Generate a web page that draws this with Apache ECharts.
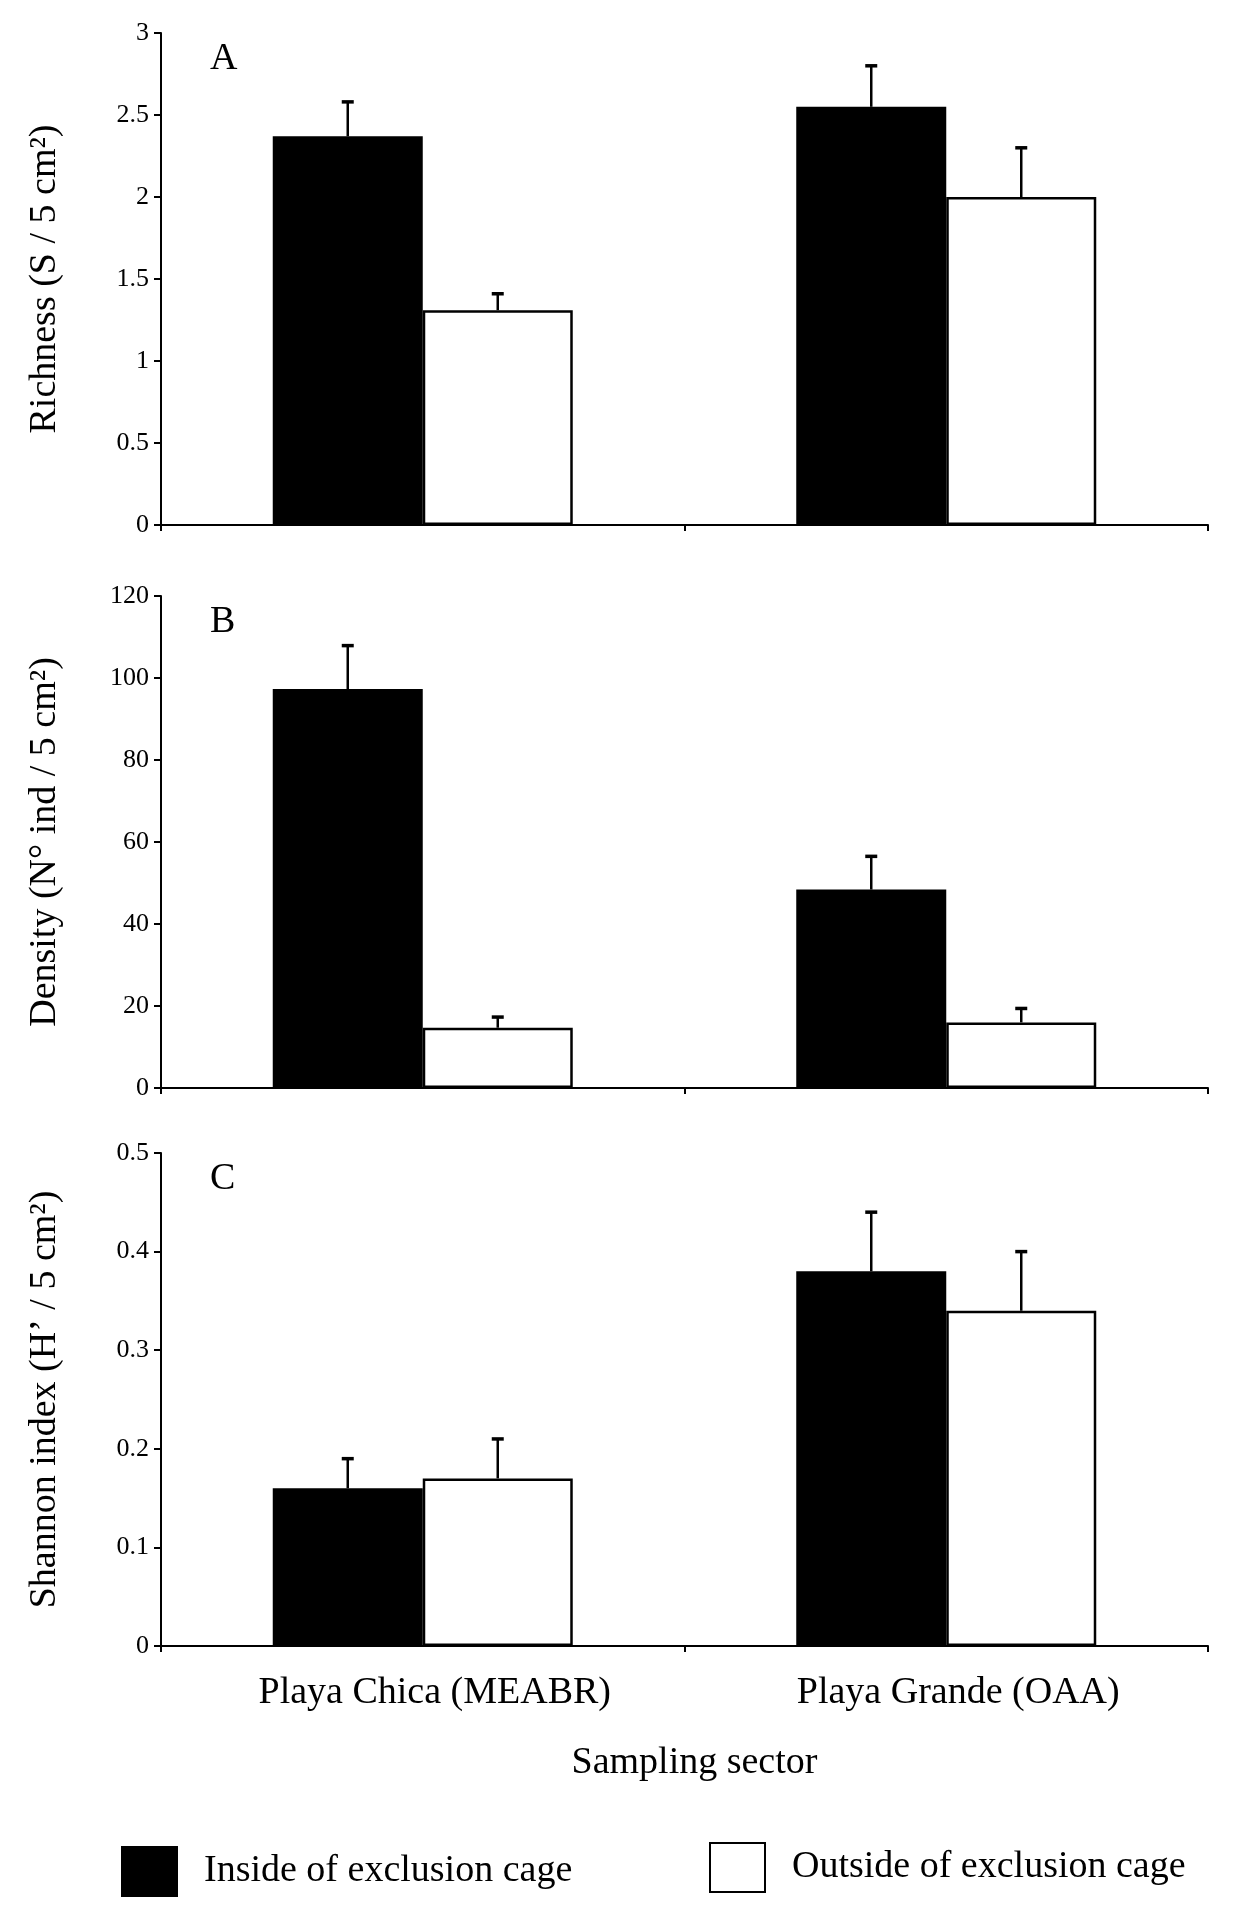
<!doctype html>
<html>
    <head>
        <meta charset="utf-8">
        <title>Exclusion cage - richness, density, Shannon</title>
        <style>
            html, body { margin: 0; padding: 0; background: #fff; }
            #main { width: 1260px; height: 1922px; }
        </style>
    </head>
    <body>
        <div id="main"></div>
        <script src="https://cdn.jsdelivr.net/npm/echarts@6/dist/echarts.min.js"></script>
        <script>
            // sectors on the x axis
            var sectors = ['Playa Chica (MEABR)', 'Playa Grande (OAA)'];

            // A: richness (S / 5 cm2), mean and upper error
            var richnessIn = [2.37, 2.55];
            var richnessInErr = [0.21, 0.25];
            var richnessOut = [1.31, 2.0];
            var richnessOutErr = [0.1, 0.3];

            // B: density (N ind / 5 cm2)
            var densityIn = [97.3, 48.4];
            var densityInErr = [10.6, 8.1];
            var densityOut = [14.7, 16.0];
            var densityOutErr = [2.6, 3.4];

            // C: Shannon index (H' / 5 cm2)
            var shannonIn = [0.16, 0.38];
            var shannonInErr = [0.03, 0.06];
            var shannonOut = [0.17, 0.34];
            var shannonOutErr = [0.04, 0.06];

            var yMax = [3, 120, 0.5];
            var yStep = [0.5, 20, 0.1];
            var yNames = ['Richness (S / 5 cm\u00b2)', 'Density (N\u00b0 ind / 5 cm\u00b2)', 'Shannon index (H\u2019 / 5 cm\u00b2)'];
            var panelLetters = ['A', 'B', 'C'];

            var IN_NAME = 'Inside of exclusion cage';
            var OUT_NAME = 'Outside of exclusion cage';
            var BAR_W = 150;
            var FONT = 'Liberation Serif, Times New Roman, serif';

            var chart = echarts.init(document.getElementById('main'), null, {
                renderer: 'canvas'
            });

            var grids = [
                { left: 161, right: 52, top: 33, height: 492 },
                { left: 161, right: 52, top: 596, height: 492 },
                { left: 161, right: 52, top: 1153, height: 493 }
            ];

            function errData(means, errs, side) {
                return means.map(function (m, i) {
                    return [i, m, m + errs[i], side];
                });
            }

            function renderErr(params, api) {
                var side = api.value(3) === 0 ? -1 : 1;
                var base = api.coord([api.value(0), api.value(1)]);
                var top = api.coord([api.value(0), api.value(2)]);
                var x = base[0] + side * BAR_W / 2;
                return {
                    type: 'group',
                    children: [
                        { type: 'line', shape: { x1: x, y1: base[1], x2: x, y2: top[1] }, style: { stroke: '#000', lineWidth: 2.5 } },
                        { type: 'line', shape: { x1: x - 6, y1: top[1], x2: x + 6, y2: top[1] }, style: { stroke: '#000', lineWidth: 3.5 } }
                    ]
                };
            }

            var panels = [
                [richnessIn, richnessInErr, richnessOut, richnessOutErr],
                [densityIn, densityInErr, densityOut, densityOutErr],
                [shannonIn, shannonInErr, shannonOut, shannonOutErr]
            ];

            var xAxes = [], yAxes = [], series = [], titles = [];
            panels.forEach(function (p, k) {
                var last = k === panels.length - 1;
                xAxes.push({
                    type: 'category',
                    gridIndex: k,
                    data: sectors,
                    boundaryGap: true,
                    axisLine: { lineStyle: { color: '#000', width: 2 } },
                    axisTick: { show: true, length: 6, lineStyle: { color: '#000', width: 2 } },
                    axisLabel: { show: last, color: '#000', fontFamily: FONT, fontSize: 38, margin: 28, padding: [0, 0, 0, 24] },
                    name: last ? 'Sampling sector' : '',
                    nameLocation: 'middle',
                    nameGap: 98,
                    nameTextStyle: { color: '#000', fontFamily: FONT, fontSize: 38, padding: [0, 0, 0, 20] }
                });
                yAxes.push({
                    type: 'value',
                    gridIndex: k,
                    min: 0,
                    max: yMax[k],
                    interval: yStep[k],
                    splitLine: { show: false },
                    axisLine: { show: true, lineStyle: { color: '#000', width: 2 } },
                    axisTick: { show: true, length: 7, lineStyle: { color: '#000', width: 2 } },
                    axisLabel: { color: '#000', fontFamily: FONT, fontSize: 26, margin: 12 },
                    name: yNames[k],
                    nameLocation: 'middle',
                    nameGap: 97,
                    nameTextStyle: { color: '#000', fontFamily: FONT, fontSize: 38 }
                });
                series.push({
                    name: IN_NAME,
                    type: 'bar',
                    xAxisIndex: k,
                    yAxisIndex: k,
                    barWidth: BAR_W,
                    barGap: '0%',
                    itemStyle: { color: '#000', borderColor: '#000', borderWidth: 2 },
                    data: p[0],
                    z: 2
                });
                series.push({
                    name: OUT_NAME,
                    type: 'bar',
                    xAxisIndex: k,
                    yAxisIndex: k,
                    barWidth: BAR_W,
                    barGap: '0%',
                    itemStyle: { color: '#fff', borderColor: '#000', borderWidth: 2.5 },
                    data: p[2],
                    z: 2
                });
                series.push({
                    type: 'custom',
                    xAxisIndex: k,
                    yAxisIndex: k,
                    renderItem: renderErr,
                    encode: { x: 0, y: 2 },
                    data: errData(p[0], p[1], 0).concat(errData(p[2], p[3], 1)),
                    z: 5,
                    silent: true
                });
                titles.push({
                    text: panelLetters[k],
                    left: 205,
                    top: grids[k].top + 2,
                    textStyle: { color: '#000', fontFamily: FONT, fontSize: 38, fontWeight: 'normal' }
                });
            });

            chart.setOption({
                backgroundColor: '#fff',
                animation: false,
                title: titles,
                grid: grids,
                xAxis: xAxes,
                yAxis: yAxes,
                legend: [{
                    data: [IN_NAME],
                    left: 121,
                    top: 1846,
                    padding: 0,
                    itemWidth: 55,
                    itemHeight: 49,
                    selectedMode: false,
                    icon: 'rect',
                    textStyle: { color: '#000', fontFamily: FONT, fontSize: 38, padding: [0, 0, 0, 22] }
                }, {
                    data: [OUT_NAME],
                    left: 709,
                    top: 1842,
                    padding: 0,
                    itemWidth: 55,
                    itemHeight: 49,
                    selectedMode: false,
                    icon: 'rect',
                    textStyle: { color: '#000', fontFamily: FONT, fontSize: 38, padding: [0, 0, 0, 22] }
                }],
                series: series
            });

            window.onresize = chart.resize;
        </script>
    </body>
</html>
